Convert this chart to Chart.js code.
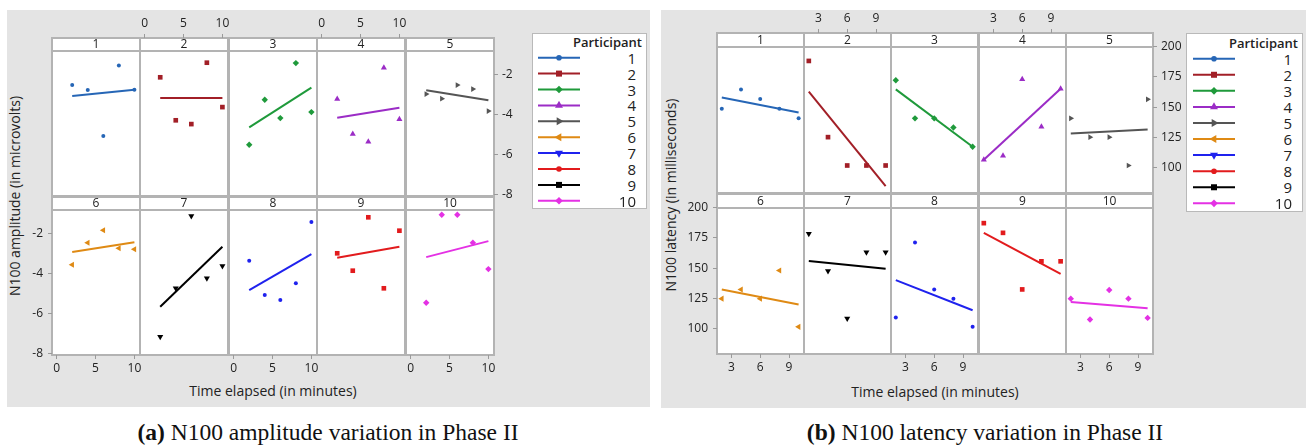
<!DOCTYPE html>
<html><head><meta charset="utf-8">
<script src="https://cdn.jsdelivr.net/npm/chart.js@4.4.1/dist/chart.umd.min.js"></script>
<style>
html,body{margin:0;padding:0;}
body{width:1311px;height:446px;background:#fff;position:relative;overflow:hidden;font-family:'Open Sans',sans-serif;color:#222;}
.panel{position:absolute;background:#e4e4e4;}
.atitle{position:absolute;font-size:14px;white-space:nowrap;transform:translate(-50%,-50%);}
.ytitle{transform:translate(-50%,-50%) rotate(-90deg);}
.caption{position:absolute;font-family:'Liberation Serif','Times New Roman',serif;font-size:23.5px;white-space:nowrap;transform:translate(-50%,-50%);color:#111;}
.legend{position:absolute;background:#fff;border:1px solid #b9b9b9;box-sizing:border-box;}
.legend .lt{position:absolute;font-size:13px;font-weight:600;white-space:nowrap;transform:translateY(-50%);}
.legend .ln{position:absolute;font-size:15px;white-space:nowrap;transform:translateY(-50%);}
.legend svg{position:absolute;left:0;top:0;}
canvas{position:absolute;}
</style></head><body>
<div class="panel" style="left:7px;top:10px;width:643px;height:397px"></div>
<div class="panel" style="left:661px;top:10px;width:645px;height:398px"></div>
<div class="atitle ytitle" style="left:14px;top:196px">N100 amplitude (in microvolts)</div>
<div class="atitle" style="left:273px;top:390px">Time elapsed (in minutes)</div>
<div class="atitle ytitle" style="left:670px;top:195px">N100 latency (in milliseconds)</div>
<div class="atitle" style="left:935px;top:391px">Time elapsed (in minutes)</div>
<div class="caption" style="left:328px;top:432px"><b>(a)</b> N100 amplitude variation in Phase II</div>
<div class="caption" style="left:985px;top:432px"><b>(b)</b> N100 latency variation in Phase II</div>
<script>
// ---------------- DATA ----------------
const times = [2, 4, 6, 8, 10];
const participants = ['1','2','3','4','5','6','7','8','9','10'];
const ampTicksX = [0, 5, 10];
const ampTicksY = [-2, -4, -6, -8];
const latTicksX = [3, 6, 9];
const latTicksY = [100, 125, 150, 175, 200];

// N100 amplitude (microvolts) per participant at times 2,4,6,8,10
const ampP1  = [-2.52, -2.77, -5.07, -1.54, -2.75];
const ampP2  = [-2.13, -4.28, -4.47, -1.40, -3.62];
const ampP3  = [-5.50, -3.25, -4.17, -1.42, -3.87];
const ampP4  = [-3.22, -4.97, -5.35, -1.65, -4.23];
const ampP5  = [-2.97, -3.20, -2.52, -2.72, -3.82];
const ampP6  = [-3.55, -2.45, -1.83, -2.73, -2.78];
const ampP7  = [-7.15, -4.73, -1.12, -4.23, -3.62];
const ampP8  = [-3.35, -5.07, -5.32, -4.48, -1.42];
const ampP9  = [-2.98, -3.85, -1.18, -4.73, -1.85];
const ampP10 = [-5.45, -1.05, -1.05, -2.45, -3.77];
// fitted line values at t=2 and t=10
const ampFitAt2  = [-3.07, -3.17, -4.63, -4.15, -2.78, -2.92, -5.65, -4.82, -3.20, -3.17];
const ampFitAt10 = [-2.75, -3.17, -2.65, -3.65, -3.28, -2.43, -2.65, -3.02, -2.65, -2.37];

// N100 latency (ms)
const latP1  = [148.8, 164.7, 156.7, 148.8, 140.8];
const latP2  = [188.2, 125.3, 101.9, 101.9, 101.9];
const latP3  = [172.2, 140.8, 140.8, 133.3, 117.4];
const latP4  = [106.6, 109.9, 173.0, 133.9, 165.3];
const latP5  = [140.8, 125.3, 125.3, 101.9, 156.5];
const latP6  = [124.9, 132.5, 124.9, 148.1, 101.6];
const latP7  = [178.4, 147.8, 108.5, 163.1, 163.1];
const latP8  = [109.3, 171.3, 132.5, 124.9, 101.6];
const latP9  = [187.2, 179.2, 132.5, 155.7, 155.7];
const latP10 = [124.9, 107.7, 132.0, 124.9, 109.0];
const latFitAt2  = [158.1, 162.8, 164.7, 106.6, 128.4, 132.5, 156.0, 140.2, 179.2, 122.1];
const latFitAt10 = [145.7,  84.8, 117.4, 165.3, 131.7, 120.0, 149.5, 115.3, 145.4, 116.9];

const amplitudeSeries = [ampP1, ampP2, ampP3, ampP4, ampP5, ampP6, ampP7, ampP8, ampP9, ampP10];
const latencySeries = [latP1, latP2, latP3, latP4, latP5, latP6, latP7, latP8, latP9, latP10];

// ---------------- STYLE ----------------
// legend colours
const colors = ['#2666b6', '#a21f27', '#1f9a3b', '#9b2cc6', '#555555', '#df8a14', '#1f22ee', '#e21b1d', '#000000', '#e431e4'];
// colours as used inside the panels (7/8/9 differ from the legend in the original)
const facetColors = ['#2666b6', '#a21f27', '#1f9a3b', '#9b2cc6', '#555555', '#df8a14', '#000000', '#1f22ee', '#e21b1d', '#e431e4'];
const markerStyle = ['circle', 'rect', 'rectRot', 'triangle', 'triangle', 'triangle', 'triangle', 'circle', 'rect', 'rectRot'];
const markerRotation = [0, 0, 0, 0, 90, -90, 180, 0, 0, 0];
const markerRadius = [2, 3.3, 3.2, 3.5, 3.3, 3.5, 3.5, 2, 3.3, 3.2];

Chart.defaults.font.family = "'Open Sans', sans-serif";
Chart.defaults.color = '#222';

const panelA = {
  colLeft: [52, 140, 229, 317, 406], colW: 88,
  stripTop: [38, 197], stripH: 13, plotH: 145,
  xMin: -0.6, xMax: 10.72, yMin: -8.065, yTop: -0.815,
  xTicks: ampTicksX, yTicks: ampTicksY,
  series: amplitudeSeries, fitA: ampFitAt2, fitB: ampFitAt10,
  showX: [1, 3, 5, 7, 9]
};
const panelB = {
  colLeft: [717, 804, 891, 979, 1066], colW: 87,
  stripTop: [33, 194], stripH: 14, plotH: 146,
  xMin: 1.5, xMax: 10.56, yMin: 79.2, yTop: 199.7,
  xTicks: latTicksX, yTicks: latTicksY,
  series: latencySeries, fitA: latFitAt2, fitB: latFitAt10,
  showX: [1, 3, 5, 7, 9]
};

function framePlugin(cfg, idx) {
  return {
    id: 'frame' + idx,
    beforeDraw(chart) {
      const ctx = chart.ctx, a = chart.chartArea, sh = cfg.stripH;
      ctx.save();
      ctx.fillStyle = '#ffffff';
      ctx.fillRect(a.left, a.top, a.right - a.left, a.bottom - a.top);
      ctx.strokeStyle = '#b3b3b3';
      ctx.lineWidth = 2;
      ctx.strokeRect(a.left, a.top, a.right - a.left, sh);
      ctx.strokeRect(a.left, a.top + sh, a.right - a.left, a.bottom - a.top - sh);
      ctx.fillStyle = '#222';
      ctx.font = "12px 'Open Sans'";
      ctx.textAlign = 'center';
      ctx.textBaseline = 'middle';
      ctx.fillText(participants[idx], (a.left + a.right) / 2, a.top + sh / 2 + 0.5);
      ctx.restore();
    }
  };
}

function facet(cfg, idx) {
  const row = Math.floor(idx / 5), col = idx % 5;
  const M = 40;
  const W = cfg.colW, H = cfg.stripH + cfg.plotH;
  const left = cfg.colLeft[col], top = cfg.stripTop[row];
  const cv = document.createElement('canvas');
  cv.width = W + 2 * M; cv.height = H + 2 * M;
  cv.style.left = (left - M) + 'px'; cv.style.top = (top - M) + 'px';
  cv.style.width = (W + 2 * M) + 'px'; cv.style.height = (H + 2 * M) + 'px';
  document.body.appendChild(cv);

  const xPos = row === 0 ? 'top' : 'bottom';
  const showX = cfg.showX.includes(idx);
  const yPos = idx === 4 ? 'right' : 'left';
  const showY = idx === 4 || idx === 5;
  const yMaxChart = cfg.yTop + cfg.stripH * (cfg.yTop - cfg.yMin) / cfg.plotH;
  const color = facetColors[idx];
  const vals = cfg.series[idx];

  new Chart(cv, {
    type: 'scatter',
    data: {
      datasets: [
        {
          data: vals.map((v, i) => ({ x: times[i], y: v })),
          pointStyle: markerStyle[idx], pointRotation: markerRotation[idx], pointRadius: markerRadius[idx],
          pointBackgroundColor: color, pointBorderColor: color, pointBorderWidth: 0
        },
        {
          data: [{ x: times[0], y: cfg.fitA[idx] }, { x: times[times.length - 1], y: cfg.fitB[idx] }],
          showLine: true, pointRadius: 0, borderColor: color, borderWidth: 2, fill: false
        }
      ]
    },
    options: {
      responsive: false, animation: false, devicePixelRatio: 1, events: [],
      layout: { padding: {
        top: xPos === 'top' ? 0 : M, bottom: xPos === 'bottom' ? 0 : M,
        left: yPos === 'left' ? 0 : M, right: yPos === 'right' ? 0 : M } },
      plugins: { legend: { display: false }, tooltip: { enabled: false }, title: { display: false } },
      scales: {
        x: {
          type: 'linear', position: xPos, min: cfg.xMin, max: cfg.xMax, bounds: 'data',
          afterBuildTicks: s => { s.ticks = cfg.xTicks.map(v => ({ value: v })); },
          afterFit: s => { s.height = M; },
          ticks: { display: showX, autoSkip: false, maxRotation: 0, padding: xPos === 'top' ? 3 : 2, color: '#222', font: { size: 12 } },
          grid: { display: showX, drawOnChartArea: false, drawTicks: true, tickLength: 4, color: '#9a9a9a' },
          border: { display: false }
        },
        y: {
          type: 'linear', position: yPos, min: cfg.yMin, max: yMaxChart, bounds: 'data',
          afterBuildTicks: s => { s.ticks = cfg.yTicks.map(v => ({ value: v })); },
          afterFit: s => { s.width = M; },
          ticks: { display: showY, autoSkip: false, padding: yPos === 'left' ? 5 : 4, color: '#222', font: { size: 12 } },
          grid: { display: showY, drawOnChartArea: false, drawTicks: true, tickLength: 4, color: '#9a9a9a' },
          border: { display: false }
        }
      }
    },
    plugins: [framePlugin(cfg, idx)]
  });
}

for (let i = 0; i < 10; i++) { facet(panelA, i); facet(panelB, i); }

// ---------------- LEGENDS ----------------
function markerSVG(i, cx, cy) {
  const c = colors[i], st = markerStyle[i];
  if (st === 'circle') return `<circle cx="${cx}" cy="${cy}" r="2.8" fill="${c}"/>`;
  if (st === 'rect') return `<rect x="${cx - 3}" y="${cy - 3}" width="6" height="6" fill="${c}"/>`;
  if (st === 'rectRot') { const r = 3.8; return `<polygon points="${cx},${cy - r} ${cx + r},${cy} ${cx},${cy + r} ${cx - r},${cy}" fill="${c}"/>`; }
  const r = 4.6; let rad = markerRotation[i] * Math.PI / 180; const pts = [];
  for (let k = 0; k < 3; k++) { pts.push((cx + Math.sin(rad) * r).toFixed(2) + ',' + (cy - Math.cos(rad) * r).toFixed(2)); rad += 2 * Math.PI / 3; }
  return `<polygon points="${pts.join(' ')}" fill="${c}"/>`;
}
function legend(b) {
  const d = document.createElement('div');
  d.className = 'legend';
  d.style.left = b.left + 'px'; d.style.top = b.top + 'px';
  d.style.width = b.w + 'px'; d.style.height = b.h + 'px';
  let svg = `<svg width="${b.w}" height="${b.h}">`;
  let html = `<div class="lt" style="right:${b.titleRight}px;top:${b.titleY}px">Participant</div>`;
  participants.forEach((p, i) => {
    const y = b.firstY + i * b.step;
    svg += `<line x1="${b.x1}" y1="${y}" x2="${b.x2}" y2="${y}" stroke="${colors[i]}" stroke-width="2"/>`;
    svg += markerSVG(i, (b.x1 + b.x2) / 2, y);
    html += `<div class="ln" style="right:${b.numRight}px;top:${y}px">${p}</div>`;
  });
  svg += '</svg>';
  d.innerHTML = svg + html;
  document.body.appendChild(d);
}
legend({ left: 532, top: 33, w: 115, h: 176, titleRight: 4, titleY: 8, firstY: 23.7, step: 15.9, x1: 5, x2: 47, numRight: 10 });
legend({ left: 1186, top: 33, w: 117, h: 179, titleRight: 4, titleY: 8.7, firstY: 24.7, step: 16.07, x1: 6, x2: 48, numRight: 10 });
</script>
</body></html>
